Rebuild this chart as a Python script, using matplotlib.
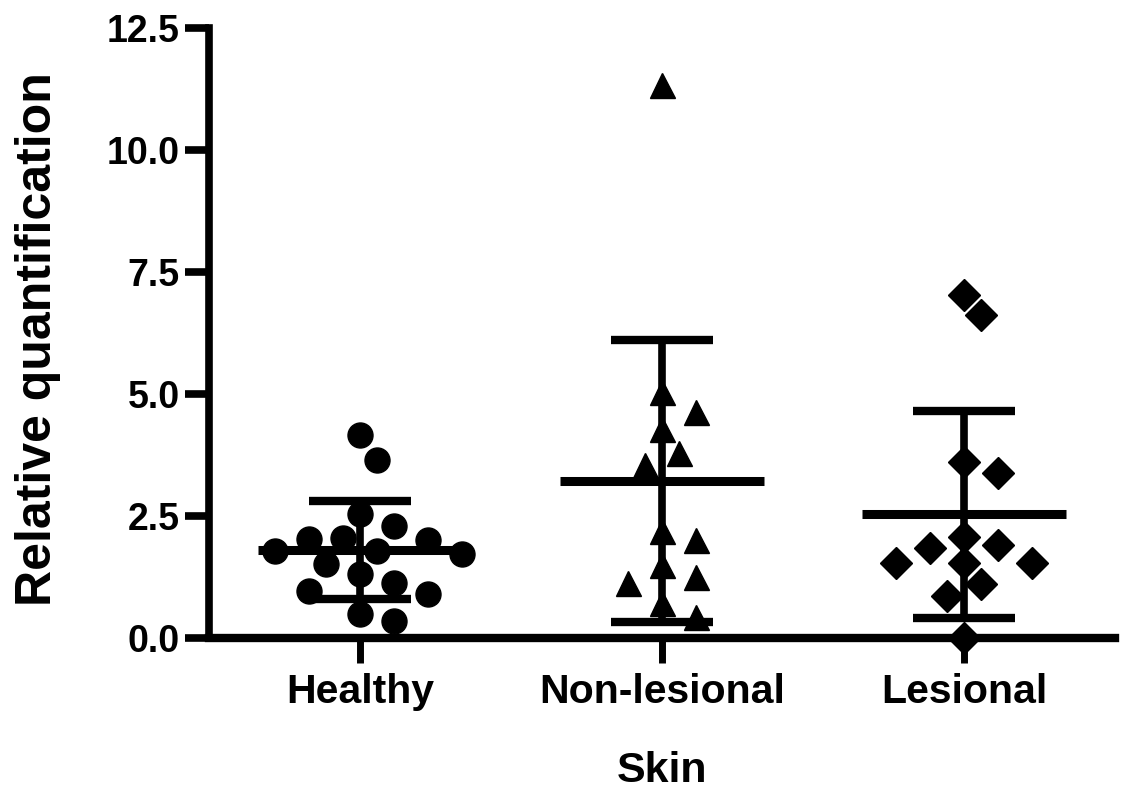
import numpy as np
import matplotlib
matplotlib.use("Agg")
import matplotlib.pyplot as plt

plt.rcParams['font.family'] = ['Liberation Sans', 'DejaVu Sans']
plt.rcParams['font.weight'] = 'bold'

groups = ['Healthy', 'Non-lesional', 'Lesional']

healthy = [4.15, 3.65, 2.55, 2.30, 1.79, 1.79, 2.05, 2.00, 2.03, 1.72,
           1.52, 1.31, 1.13, 0.90, 0.96, 0.49, 0.35]
non_lesional = [11.33, 5.05, 4.63, 4.29, 3.80, 3.55, 2.20, 2.01, 1.50,
                1.13, 1.24, 0.72, 0.44]
lesional = [7.02, 6.61, 3.60, 3.39, 2.07, 1.85, 1.91, 1.53, 1.53, 1.53,
            1.10, 0.86, 0.00]

yticks = [0.0, 2.5, 5.0, 7.5, 10.0, 12.5]


def swarm(ax, x0, values, min_px, step_px):
    """Spread points sideways so markers do not pile on top of each other."""
    values = np.asarray(values, dtype=float)
    tr = ax.transData
    ypx = tr.transform(np.column_stack([np.full(len(values), x0), values]))[:, 1]
    xscale = tr.transform((1, 0))[0] - tr.transform((0, 0))[0]
    cands = [0]
    for k in range(1, 12):
        cands += [k, -k]
    placed = []
    offs = np.zeros(len(values))
    for i in np.argsort(-values):
        for c in cands:
            dx = c * step_px
            if all(np.hypot(dx - px, ypx[i] - py) >= min_px for px, py in placed):
                break
        placed.append((dx, ypx[i]))
        offs[i] = dx / xscale
    return x0 + offs


fig = plt.figure(figsize=(11.21, 7.89), dpi=100)
ax = fig.add_axes([0.1864, 0.1914, 0.8082, 0.7731])
ax.set_xlim(-0.5, 2.5)
ax.set_ylim(0, 12.5)

for s in ['top', 'right']:
    ax.spines[s].set_visible(False)
ax.spines['left'].set_linewidth(5.5)
ax.spines['bottom'].set_linewidth(6)

ax.set_yticks(yticks)
ax.set_yticklabels([f'{v:.1f}' for v in yticks])
ax.set_xticks(range(len(groups)))
ax.set_xticklabels(groups)
ax.tick_params(axis='y', length=17, width=5.5, pad=4, labelsize=27)
ax.tick_params(axis='x', length=18, width=5, pad=7, labelsize=29.5)

ax.set_ylabel('Relative quantification', fontsize=36, fontweight='bold')
ax.yaxis.set_label_coords(-0.163, 0.49)
ax.set_xlabel('Skin', fontsize=31, fontweight='bold', va='top')
ax.xaxis.set_label_coords(0.5, -0.185)

markers = [('o', 18), ('^', 18), ('D', 16)]
for i, (vals, (m, ms)) in enumerate(zip([healthy, non_lesional, lesional], markers)):
    xs = swarm(ax, i, vals, min_px=1.15 * ms * 1.389, step_px=17)
    ax.plot(xs, vals, linestyle='none', marker=m, markersize=ms,
            color='black', clip_on=False, zorder=3)

    # mean with +/- 1 SD
    mean = np.mean(vals)
    sd = np.std(vals, ddof=1)
    ax.hlines(mean, i - 0.337, i + 0.337, color='black', lw=6.5,
              capstyle='butt', zorder=4)
    ax.hlines([mean - sd, mean + sd], i - 0.17, i + 0.17, color='black',
              lw=6, capstyle='butt', zorder=4)
    ax.vlines(i, mean - sd, mean + sd, color='black', lw=5.5,
              capstyle='butt', zorder=4)

fig.savefig('out.png', dpi=100)
